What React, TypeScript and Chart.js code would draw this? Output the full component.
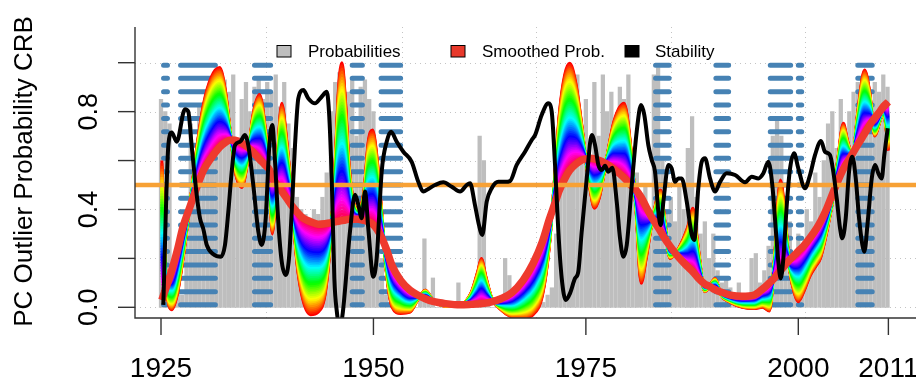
import React, { useEffect, useRef } from 'react';
import { Chart, registerables } from 'chart.js';

Chart.register(...registerables);

// ---------- axes / ticks ----------
const X_MIN = 1921.94;
const X_MAX = 2013.85;
const Y_MIN = -0.0437;
const Y_MAX = 1.146;
const xTickValues = [1925, 1950, 1975, 2000, 2010.6];
const xTickLabels = ['1925', '1950', '1975', '2000', '2011'];
const yTickValues = [0, 0.2, 0.4, 0.6, 0.8, 1.0];
const yTickLabels = ['0.0', '', '0.4', '', '0.8', ''];
const xGridValues = [1937.36, 1953.33, 1969.13, 1984.96, 2000.79];
const threshold = 0.5;
const yTitle = 'PC Outlier Probability CRB';
const legendLabels = ['Probabilities', 'Smoothed Prob.', 'Stability'];
const legendColors = ['#BEBEBE', '#E8392B', '#000000'];

// ---------- Stability (black line): [year, value] ----------
const stability: [number, number][] = [
  [1925.27, 0.01], [1925.86, 0.66], [1926.26, 0.715], [1926.85, 0.677], [1927.82, 0.81], [1928.21, 0.8],
  [1928.61, 0.66], [1929.2, 0.46], [1929.59, 0.364], [1929.98, 0.32], [1930.38, 0.255], [1931.16, 0.217],
  [1932.06, 0.207], [1932.53, 0.255], [1932.92, 0.39], [1933.32, 0.554], [1933.71, 0.663], [1934.3, 0.677],
  [1934.89, 0.704], [1935.27, 0.663], [1935.86, 0.5], [1936.45, 0.31], [1936.85, 0.255], [1937.32, 0.364],
  [1937.75, 0.663], [1938.1, 0.745], [1938.42, 0.595], [1938.8, 0.35], [1939.21, 0.186], [1939.68, 0.132],
  [1940.06, 0.2], [1940.38, 0.39], [1940.77, 0.663], [1941.16, 0.854], [1941.75, 0.888], [1942.34, 0.854],
  [1943.12, 0.834], [1943.91, 0.861], [1944.5, 0.881], [1944.77, 0.8], [1945.09, 0.527], [1945.4, 0.118],
  [1945.7, -0.02], [1946.05, -0.08], [1946.4, -0.02], [1947.24, 0.31], [1947.83, 0.46], [1948.22, 0.42],
  [1948.62, 0.364], [1949.01, 0.473], [1949.4, 0.32], [1949.98, 0.125], [1950.38, 0.2], [1950.97, 0.554],
  [1951.56, 0.677], [1952.07, 0.718], [1952.74, 0.677], [1953.52, 0.636], [1954.5, 0.595], [1955.28, 0.513],
  [1955.87, 0.473], [1956.46, 0.484], [1957.25, 0.5], [1958.22, 0.511], [1959.21, 0.493], [1960.19, 0.473],
  [1960.98, 0.5], [1961.37, 0.507], [1961.95, 0.418], [1962.42, 0.336], [1962.81, 0.296], [1963.33, 0.432],
  [1963.92, 0.487], [1964.7, 0.513], [1965.49, 0.513], [1966.07, 0.516], [1966.86, 0.582], [1967.84, 0.636],
  [1968.63, 0.684], [1969.02, 0.704], [1969.8, 0.786], [1970.58, 0.834], [1970.98, 0.8], [1971.37, 0.582],
  [1971.76, 0.31], [1972.16, 0.118], [1972.63, 0.03], [1973.13, 0.057], [1973.72, 0.118], [1974.11, 0.146],
  [1974.51, 0.31], [1975.1, 0.527], [1975.69, 0.704], [1976.08, 0.663], [1976.47, 0.582], [1976.87, 0.561],
  [1977.25, 0.579], [1977.64, 0.554], [1978.11, 0.571], [1978.63, 0.432], [1979.02, 0.282], [1979.41, 0.207],
  [1979.81, 0.255], [1980.4, 0.5], [1980.98, 0.718], [1981.49, 0.827], [1981.88, 0.786], [1982.35, 0.663],
  [1982.75, 0.602], [1983.14, 0.554], [1983.53, 0.39], [1983.81, 0.336], [1984.12, 0.432], [1984.71, 0.582],
  [1985.1, 0.568], [1985.49, 0.513], [1985.88, 0.527], [1986.28, 0.527], [1986.87, 0.432], [1987.46, 0.296],
  [1987.76, 0.275], [1988.23, 0.487], [1988.63, 0.595], [1989.02, 0.609], [1989.61, 0.527], [1990.2, 0.473],
  [1990.79, 0.513], [1991.58, 0.548], [1992.56, 0.541], [1993.73, 0.511], [1994.52, 0.534], [1995.3, 0.527],
  [1995.89, 0.548], [1996.47, 0.595], [1996.94, 0.5], [1997.34, 0.323], [1997.65, 0.186], [1997.93, 0.118],
  [1998.24, 0.2], [1998.64, 0.418], [1999.03, 0.568], [1999.5, 0.63], [2000.0, 0.568], [2000.79, 0.487],
  [2001.38, 0.541], [2001.97, 0.623], [2002.67, 0.68], [2003.14, 0.636], [2003.73, 0.623], [2004.12, 0.554],
  [2004.52, 0.446], [2004.91, 0.323], [2005.18, 0.282], [2005.58, 0.364], [2005.97, 0.554], [2006.36, 0.616],
  [2006.76, 0.527], [2007.15, 0.364], [2007.54, 0.255], [2007.77, 0.227], [2008.17, 0.35], [2008.64, 0.527],
  [2009.03, 0.582], [2009.42, 0.548], [2009.81, 0.527], [2010.12, 0.623], [2010.52, 0.732],
];

// ---------- Probabilities (gray bars), half-year steps from 1925.0 ----------
const probStart = 1925;
const probStep = 0.5;
const probValues = [
  0.85, 0.8, 0.75, 0.1, 0.06, 0.05, 0.35, 0.75, 0.55, 0.82, // 1925-1929
  0.75, 0.88, 0.8, 0.9, 0.85, 0.93, 0.88, 0.95, 0.6, 0.85, // 1930-1934
  0.92, 0.8, 0.9, 0.93, 0.85, 0.92, 0.88, 0.95, 0.82, 0.92, // 1935-1939
  0.75, 0.65, 0.45, 0.4, 0.38, 0.35, 0.4, 0.38, 0.45, 0.55, // 1940-1944
  0.8, 0.92, 0.96, 0.9, 0.88, 0.94, 0.7, 0.9, 0.93, 0.85, // 1945-1949
  0.8, 0.55, 0.2, 0.05, 0.02, 0.0, 0.0, 0.03, 0.0, 0.02, // 1950-1954
  0.0, 0.05, 0.28, 0.04, 0.12, 0.0, 0.03, 0.0, 0.0, 0.02, // 1955-1959
  0.1, 0.0, 0.0, 0.04, 0.03, 0.7, 0.6, 0.03, 0.0, 0.02, // 1960-1964
  0.0, 0.2, 0.13, 0.0, 0.05, 0.0, 0.0, 0.03, 0.0, 0.02, // 1965-1969
  0.02, 0.05, 0.08, 0.3, 0.55, 0.5, 0.55, 0.6, 0.95, 0.7, // 1970-1974
  0.85, 0.6, 0.92, 0.7, 0.95, 0.8, 0.88, 0.75, 0.9, 0.85, // 1975-1979
  0.95, 0.6, 0.55, 0.4, 0.5, 0.3, 0.95, 0.98, 0.6, 0.4, // 1980-1984
  0.45, 0.35, 0.5, 0.4, 0.65, 0.78, 0.45, 0.3, 0.35, 0.2, // 1985-1989
  0.3, 0.15, 0.1, 0.12, 0.08, 0.05, 0.1, 0.05, 0.03, 0.2, // 1990-1994
  0.22, 0.1, 0.15, 0.25, 0.7, 0.77, 0.7, 0.4, 0.35, 0.2, // 1995-1999
  0.3, 0.25, 0.4, 0.35, 0.55, 0.45, 0.6, 0.75, 0.8, 0.65, // 2000-2004
  0.85, 0.7, 0.8, 0.88, 0.92, 0.85, 0.9, 0.8, 0.92, 0.88, // 2005-2009
  0.95, 0.9, // 2010
];

// ---------- Smoothed Prob.: [year, least smoothed, most smoothed] ----------
const smoothedProb: [number, number, number][] = [
  [1925.1, 0.6, 0.03], [1925.6, 0.12, 0.08], [1926.26, -0.01, 0.15], [1926.9, 0.05, 0.23], [1927.6, 0.2, 0.33],
  [1928.4, 0.42, 0.41], [1929.2, 0.65, 0.49], [1930.0, 0.83, 0.56], [1930.9, 0.94, 0.61], [1931.9, 0.98, 0.655],
  [1932.6, 0.88, 0.675], [1933.2, 0.7, 0.684], [1933.7, 0.56, 0.683], [1934.5, 0.49, 0.672], [1935.2, 0.6, 0.655],
  [1935.8, 0.78, 0.635], [1936.6, 0.87, 0.605], [1937.3, 0.72, 0.58], [1937.8, 0.5, 0.56], [1938.1, 0.3, 0.53],
  [1938.6, 0.55, 0.505], [1939.2, 0.834, 0.475], [1939.8, 0.68, 0.445], [1940.4, 0.45, 0.415], [1941.0, 0.18, 0.39],
  [1941.7, 0.03, 0.365], [1942.6, -0.03, 0.35], [1943.5, -0.02, 0.34], [1944.3, 0.05, 0.342], [1944.9, 0.25, 0.345],
  [1945.5, 0.6, 0.35], [1945.9, 0.9, 0.352], [1946.3, 1.0, 0.355], [1946.7, 0.85, 0.357], [1947.1, 0.6, 0.36],
  [1947.6, 0.44, 0.36], [1948.2, 0.4, 0.36], [1948.9, 0.48, 0.355], [1949.4, 0.68, 0.35], [1949.9, 0.725, 0.34],
  [1950.4, 0.62, 0.32], [1950.9, 0.42, 0.29], [1951.5, 0.15, 0.24], [1952.2, 0.0, 0.17], [1953.2, -0.025, 0.11],
  [1954.3, -0.02, 0.07], [1955.2, 0.03, 0.05], [1956.1, 0.07, 0.035], [1957.0, 0.03, 0.024], [1958.5, 0.005, 0.015],
  [1960.2, 0.01, 0.01], [1961.5, 0.06, 0.012], [1962.3, 0.15, 0.014], [1962.7, 0.2, 0.015], [1963.2, 0.13, 0.017],
  [1963.9, 0.04, 0.022], [1965.0, -0.01, 0.035], [1966.3, -0.04, 0.06], [1967.6, -0.045, 0.11], [1968.8, -0.03, 0.18],
  [1969.9, 0.05, 0.27], [1970.7, 0.25, 0.36], [1971.3, 0.52, 0.42], [1971.9, 0.8, 0.48], [1972.5, 0.95, 0.525],
  [1973.1, 0.998, 0.56], [1973.8, 0.92, 0.585], [1974.5, 0.75, 0.602], [1975.0, 0.6, 0.607], [1975.5, 0.48, 0.609],
  [1976.0, 0.405, 0.607], [1976.6, 0.45, 0.6], [1977.4, 0.6, 0.587], [1978.3, 0.76, 0.565], [1979.5, 0.834, 0.53],
  [1980.3, 0.65, 0.5], [1980.9, 0.4, 0.48], [1981.5, 0.098, 0.45], [1982.1, 0.2, 0.41], [1982.8, 0.35, 0.365],
  [1983.8, 0.48, 0.31], [1984.3, 0.35, 0.28], [1984.9, 0.2, 0.25], [1985.9, 0.24, 0.205], [1987.0, 0.33, 0.165],
  [1987.6, 0.405, 0.145], [1988.2, 0.25, 0.12], [1989.0, 0.064, 0.095], [1989.6, 0.09, 0.085], [1990.2, 0.118, 0.072],
  [1990.9, 0.05, 0.062], [1992.0, 0.02, 0.05], [1993.4, 0.0, 0.045], [1994.8, -0.005, 0.05], [1995.8, 0.0, 0.075],
  [1996.6, -0.015, 0.1], [1997.2, 0.2, 0.12], [1997.9, 0.52, 0.15], [1998.5, 0.35, 0.175], [1999.0, 0.15, 0.195],
  [1999.6, 0.05, 0.215], [2000.0, 0.023, 0.23], [2000.6, 0.06, 0.25], [2001.4, 0.13, 0.285], [2002.1, 0.17, 0.32],
  [2002.6, 0.2, 0.35], [2003.3, 0.3, 0.4], [2004.1, 0.45, 0.47], [2004.7, 0.62, 0.52], [2005.3, 0.752, 0.565],
  [2005.8, 0.68, 0.595], [2006.4, 0.62, 0.63], [2007.0, 0.8, 0.665], [2007.8, 0.97, 0.71], [2008.4, 0.88, 0.745],
  [2009.0, 0.7, 0.775], [2009.6, 0.76, 0.8], [2010.0, 0.8, 0.82], [2010.6, 0.64, 0.84],
];

// ---------- flagged periods (blue dash columns) and dash levels ----------
const flaggedPeriods: [number, number][] = [
  [1925.3, 1925.76], [1927.3, 1931.4], [1936.0, 1937.9], [1947.5, 1948.7], [1950.9, 1953.2],
  [1983.2, 1984.8], [1990.3, 1991.8], [1996.7, 1999.1], [2000.0, 2000.4], [2007.0, 2008.7],
];
const dashLevels = [
  0.01, 0.064, 0.119, 0.173, 0.228, 0.282, 0.337, 0.391, 0.446, 0.5,
  0.554, 0.609, 0.663, 0.718, 0.772, 0.827, 0.881, 0.936, 0.99,
];

// ---------- style ----------
const FONT = '"Liberation Sans", Arial, Helvetica, sans-serif';
const BAND_LINES = 52;
const ORANGE = '#F7A135';
const BLUE = '#4682B4';
const SMOOTH_RED = '#EE3A2E';

const decorPlugin = {
  id: 'decor',
  beforeDatasetsDraw(chart: any) {
    const { ctx, chartArea: a, scales } = chart;
    ctx.save();
    ctx.strokeStyle = '#C4C4C4';
    ctx.lineWidth = 1;
    ctx.setLineDash([1, 4]);
    yTickValues.forEach((v) => {
      const y = Math.round(scales.y.getPixelForValue(v)) + 0.5;
      ctx.beginPath();
      ctx.moveTo(a.left, y);
      ctx.lineTo(a.right, y);
      ctx.stroke();
    });
    xGridValues.forEach((v) => {
      const x = Math.round(scales.x.getPixelForValue(v)) + 0.5;
      ctx.beginPath();
      ctx.moveTo(x, a.top);
      ctx.lineTo(x, a.bottom);
      ctx.stroke();
    });
    ctx.restore();
  },
  afterDraw(chart: any) {
    const { ctx, chartArea: a, scales } = chart;
    ctx.save();
    ctx.strokeStyle = '#333';
    ctx.lineWidth = 1.4;
    ctx.setLineDash([]);
    ctx.beginPath();
    ctx.moveTo(a.left, a.top);
    ctx.lineTo(a.left, a.bottom);
    ctx.lineTo(a.right, a.bottom);
    ctx.stroke();
    yTickValues.forEach((v) => {
      const y = scales.y.getPixelForValue(v);
      ctx.beginPath();
      ctx.moveTo(a.left - 17, y);
      ctx.lineTo(a.left, y);
      ctx.stroke();
    });
    xTickValues.forEach((v) => {
      const x = scales.x.getPixelForValue(v);
      ctx.beginPath();
      ctx.moveTo(x, a.bottom);
      ctx.lineTo(x, a.bottom + 17);
      ctx.stroke();
    });
    ctx.fillStyle = '#000';
    ctx.font = `28px ${FONT}`;
    ctx.textAlign = 'center';
    ctx.textBaseline = 'alphabetic';
    xTickValues.forEach((v, i) => {
      ctx.fillText(xTickLabels[i], scales.x.getPixelForValue(v), 377);
    });
    ctx.font = `27px ${FONT}`;
    yTickValues.forEach((v, i) => {
      if (!yTickLabels[i]) return;
      ctx.save();
      ctx.translate(96.5, scales.y.getPixelForValue(v));
      ctx.rotate(-Math.PI / 2);
      ctx.fillText(yTickLabels[i], 0, 0);
      ctx.restore();
    });
    ctx.font = `26px ${FONT}`;
    ctx.save();
    ctx.translate(32, 171.5);
    ctx.rotate(-Math.PI / 2);
    ctx.fillText(yTitle, 0, 0);
    ctx.restore();
    const boxX = [277, 451, 625];
    const textX = [308, 482, 655];
    ctx.font = `17px ${FONT}`;
    ctx.textAlign = 'left';
    legendLabels.forEach((lab, i) => {
      ctx.fillStyle = legendColors[i];
      ctx.fillRect(boxX[i], 45.5, 14, 11.5);
      ctx.strokeStyle = '#000';
      ctx.lineWidth = 1;
      ctx.strokeRect(boxX[i], 45.5, 14, 11.5);
      ctx.fillStyle = '#000';
      ctx.fillText(lab, textX[i], 56.7);
    });
    ctx.restore();
  },
};

export default function App() {
  const ref = useRef<HTMLCanvasElement>(null);
  useEffect(() => {
    document.body.style.margin = '0';
    const canvas = ref.current!;
    const datasets: any[] = [];

    datasets.push({
      type: 'line',
      label: 'Stability',
      data: stability.map(([x, y]) => ({ x, y })),
      borderColor: '#000',
      borderWidth: 4,
      pointRadius: 0,
      cubicInterpolationMode: 'monotone',
      order: 0,
    });
    datasets.push({
      type: 'line',
      label: 'threshold',
      data: [{ x: X_MIN, y: threshold }, { x: X_MAX, y: threshold }],
      borderColor: ORANGE,
      borderWidth: 4.5,
      pointRadius: 0,
      order: 1,
    });
    // the final (most smoothed) curve, thick red
    datasets.push({
      type: 'line',
      label: 'Smoothed Prob.',
      data: smoothedProb.map(([x, , s]) => ({ x, y: s })),
      borderColor: SMOOTH_RED,
      borderWidth: 7.5,
      pointRadius: 0,
      cubicInterpolationMode: 'monotone',
      order: 2,
    });
    // family of smoothings, rainbow coloured
    for (let k = 0; k < BAND_LINES; k++) {
      const u = k / (BAND_LINES - 1); // 0 = most smoothed, 1 = least smoothed
      const hue = (1 - u) * 350;
      datasets.push({
        type: 'line',
        label: 'band' + k,
        data: smoothedProb.map(([x, w, s]) => ({ x, y: s + (w - s) * u })),
        borderColor: `hsl(${hue.toFixed(1)}, 100%, 50%)`,
        borderWidth: 3,
        pointRadius: 0,
        cubicInterpolationMode: 'monotone',
        order: 3 + k,
      });
    }
    const dashData: any[] = [];
    flaggedPeriods.forEach(([x0, x1]) => {
      dashLevels.forEach((lv) => {
        dashData.push({ x: x0, y: lv }, { x: x1, y: lv }, { x: x1, y: null });
      });
    });
    datasets.push({
      type: 'line',
      label: 'flags',
      data: dashData,
      borderColor: BLUE,
      borderWidth: 5,
      borderCapStyle: 'round',
      pointRadius: 0,
      spanGaps: false,
      order: 100,
    });
    datasets.push({
      type: 'bar',
      label: 'Probabilities',
      data: probValues.map((v, i) => ({ x: probStart + i * probStep, y: v })),
      backgroundColor: '#BEBEBE',
      borderWidth: 0,
      barThickness: 3.6,
      order: 101,
    });

    const chart = new Chart(canvas, {
      type: 'line',
      data: { datasets },
      options: {
        animation: false,
        responsive: false,
        devicePixelRatio: 1,
        events: [],
        layout: { padding: { left: 135, right: 0, top: 27, bottom: 60 } },
        plugins: { legend: { display: false }, tooltip: { enabled: false } },
        scales: {
          x: { type: 'linear', min: X_MIN, max: X_MAX, display: false, offset: false },
          y: { type: 'linear', min: Y_MIN, max: Y_MAX, display: false },
        },
      },
      plugins: [decorPlugin],
    } as any);
    return () => chart.destroy();
  }, []);

  return (
    <div style={{ position: 'fixed', left: 0, top: 0, width: 916, height: 378, background: '#fff' }}>
      <canvas ref={ref} width={916} height={378} />
    </div>
  );
}
